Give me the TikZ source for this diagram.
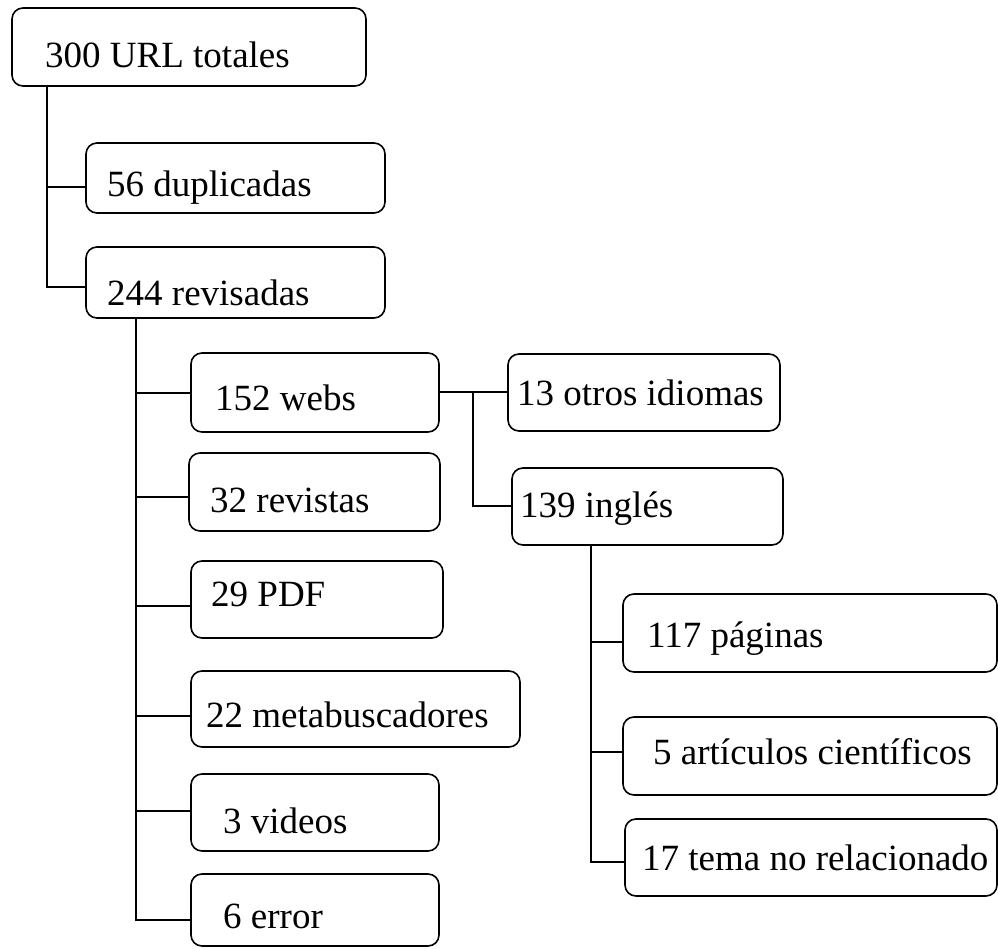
\documentclass[tikz,border=0pt]{standalone}
\usepackage{fontspec}
\setmainfont{Liberation Serif}
\begin{document}
\begin{tikzpicture}[x=1pt,y=-1pt,
  box/.style={draw=black,line width=1.6pt,rounded corners=11pt,inner sep=0pt},
  txt/.style={inner sep=0pt,anchor=base west,font=\fontsize{37}{44}\selectfont},
  conn/.style={draw=black,line width=1.6pt}]
\useasboundingbox (0,0) rectangle (998,949);
\newcommand\mybox[5]{\path[box] (#2,#3) rectangle (#4,#5);
  \node[inner sep=0pt,minimum width=#4pt-#2pt,minimum height=#5pt-#3pt,anchor=north west] (#1) at (#2,#3) {};}
\mybox{root}{12}{8}{366}{86}
\mybox{dup}{86}{143}{385}{213}
\mybox{rev}{86}{247}{385}{318}
\mybox{webs}{191}{353}{439}{432}
\mybox{revis}{189}{453}{440}{531}
\mybox{pdf}{191}{561}{443}{638}
\mybox{meta}{191}{671}{520}{747}
\mybox{vid}{191}{774}{439}{851}
\mybox{err}{191}{874}{439}{946}
\mybox{otros}{508}{354}{780}{431}
\mybox{ingles}{512}{468}{783}{545}
\mybox{pag}{623}{594}{997}{672}
\mybox{art}{623}{717}{997}{795}
\mybox{tema}{625}{819}{997}{896}
\node[txt] (troot) at (45,68) {300 URL totales};
\node[txt] (tdup) at (107,197) {56 duplicadas};
\node[txt] (trev) at (107,306) {244 revisadas};
\node[txt] (twebs) at (215,410) {152 webs};
\node[txt] (trevis) at (210,512) {32 revistas};
\node[txt] (tpdf) at (211,606) {29 PDF};
\node[txt] (tmeta) at (206,727) {22 metabuscadores};
\node[txt] (tvid) at (223,833) {3 videos};
\node[txt] (terr) at (223,928) {6 error};
\node[txt] (totros) at (517,405) {13 otros idiomas};
\node[txt] (tingles) at (520,517) {139 inglés};
\node[txt] (tpag) at (647,647) {117 páginas};
\node[txt] (tart) at (653,764) {5 artículos científicos};
\node[txt] (ttema) at (642,870) {17 tema no relacionado};
% junctions
\coordinate (a1) at (47,187);
\coordinate (a2) at (47,287);
\coordinate (b1) at (136,393);
\coordinate (b2) at (136,497);
\coordinate (b3) at (136,606);
\coordinate (b4) at (136,716);
\coordinate (b5) at (136,811);
\coordinate (b6) at (136,920);
\coordinate (c0) at (473,392);
\coordinate (c1) at (473,506);
\coordinate (d1) at (591,642);
\coordinate (d2) at (591,752);
\coordinate (d3) at (591,862);
\draw[conn] (root.south -| a1) -- (a2) -- (rev.west |- a2);
\draw[conn] (a1) -- (dup.west |- a1);
\draw[conn] (rev.south -| b1) -- (b6) -- (err.west |- b6);
\draw[conn] (b1) -- (webs.west |- b1);
\draw[conn] (b2) -- (revis.west |- b2);
\draw[conn] (b3) -- (pdf.west |- b3);
\draw[conn] (b4) -- (meta.west |- b4);
\draw[conn] (b5) -- (vid.west |- b5);
\draw[conn] (webs.east |- c0) -- (otros.west |- c0);
\draw[conn] (c0) -- (c1) -- (ingles.west |- c1);
\draw[conn] (ingles.south -| d1) -- (d3) -- (tema.west |- d3);
\draw[conn] (d1) -- (pag.west |- d1);
\draw[conn] (d2) -- (art.west |- d2);
\end{tikzpicture}
\end{document}
